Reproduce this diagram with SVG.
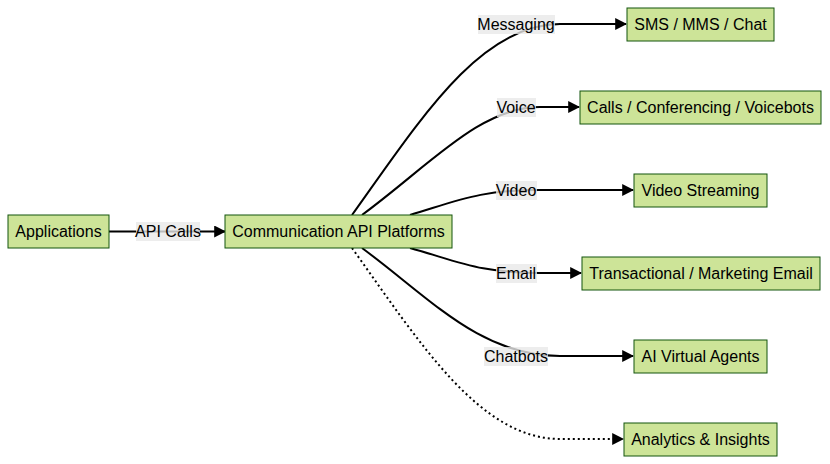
<svg xmlns="http://www.w3.org/2000/svg" width="830" height="464" viewBox="0 0 830 464">
<style>
.n rect{fill:#cde498;stroke:#13540c;stroke-width:1}
text{font-family:"Liberation Sans",Arial,sans-serif;font-size:16px;fill:#000;text-anchor:middle;dominant-baseline:central}
.e path{fill:none;stroke:#000;stroke-width:2}
.lb{fill:#e8e8e8;opacity:0.8}
</style>
<defs><marker id="a" viewBox="0 0 10 10" refX="9" refY="5" markerWidth="6" markerHeight="6" orient="auto"><path d="M0,0L10,5L0,10z" fill="#000"/></marker></defs>
<rect width="830" height="464" fill="#fff"/>
<g class="e">
<path d="M109,231.5H225" marker-end="url(#a)"/>
<path d="M352,215C420,120 480,24 560,24H626" marker-end="url(#a)"/>
<path d="M362,215C430,165 480,107 540,107H579" marker-end="url(#a)"/>
<path d="M410,215C460,200 480,190 540,190H633" marker-end="url(#a)"/>
<path d="M410,248C460,262 480,273 540,273H581" marker-end="url(#a)"/>
<path d="M362,248C430,298 480,356 560,356H633" marker-end="url(#a)"/>
<path d="M352,248C420,343 480,439 560,439H623" stroke-dasharray="2,3" marker-end="url(#a)"/>
</g>
<g>
<rect class="lb" x="136" y="222" width="64" height="19"/><text x="168" y="231.5">API Calls</text>
<rect class="lb" x="478" y="15" width="77" height="19"/><text x="516" y="24">Messaging</text>
<rect class="lb" x="497" y="98" width="39" height="19"/><text x="516" y="107">Voice</text>
<rect class="lb" x="496" y="181" width="41" height="19"/><text x="516" y="190">Video</text>
<rect class="lb" x="496" y="264" width="41" height="19"/><text x="516" y="273">Email</text>
<rect class="lb" x="484" y="347" width="64" height="19"/><text x="516" y="356">Chatbots</text>
</g>
<g class="n" id="applications"><rect x="8" y="215" width="101" height="33"/><text x="58.5" y="231.5">Applications</text></g>
<g class="n" id="cap"><rect x="225" y="215" width="227" height="33"/><text x="338.5" y="231.5">Communication API Platforms</text></g>
<g class="n" id="sms"><rect x="627" y="8" width="147" height="33"/><text x="700.5" y="24.5">SMS / MMS / Chat</text></g>
<g class="n" id="calls"><rect x="580" y="91" width="241" height="33"/><text x="700.5" y="107.5">Calls / Conferencing / Voicebots</text></g>
<g class="n" id="video"><rect x="634" y="174" width="133" height="33"/><text x="700.5" y="190.5">Video Streaming</text></g>
<g class="n" id="email"><rect x="582" y="257" width="238" height="33"/><text x="701" y="273.5">Transactional / Marketing Email</text></g>
<g class="n" id="ai"><rect x="634" y="340" width="133" height="33"/><text x="700.5" y="356.5">AI Virtual Agents</text></g>
<g class="n" id="analytics"><rect x="624" y="423" width="153" height="33"/><text x="700.5" y="439.5">Analytics &amp; Insights</text></g>
</svg>
